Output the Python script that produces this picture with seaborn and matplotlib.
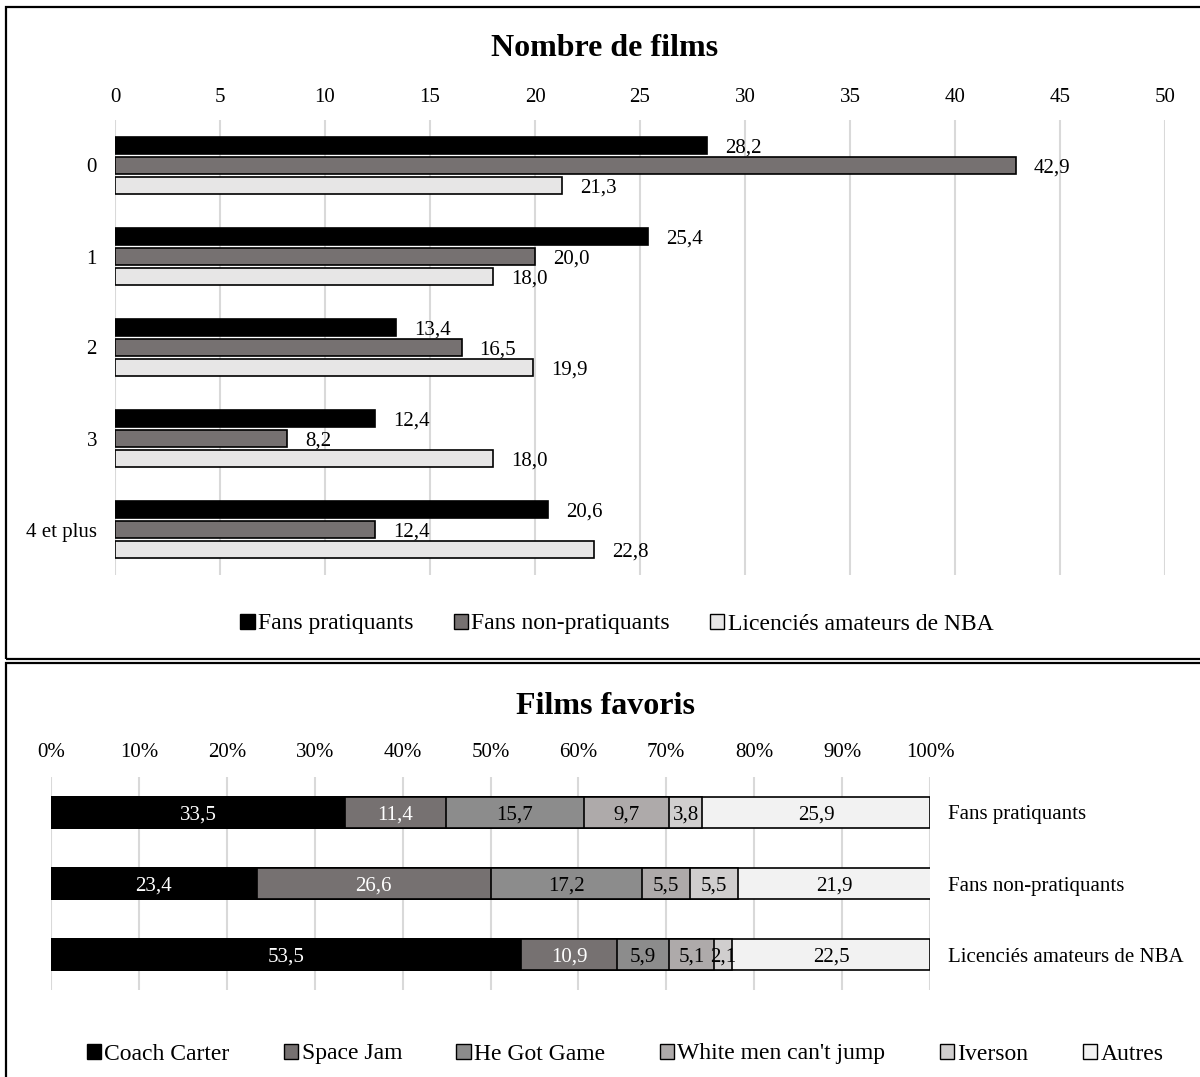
import numpy as np
import pandas as pd
import matplotlib
matplotlib.use("Agg")
import matplotlib.pyplot as plt
from matplotlib.patches import Patch, Rectangle
import seaborn as sns

# ---------------- data ----------------
nb_categories = ["0", "1", "2", "3", "4 et plus"]
series_top = ["Fans pratiquants", "Fans non-pratiquants", "Licenciés amateurs de NBA"]
fans_pratiquants = [28.2, 25.4, 13.4, 12.4, 20.6]
fans_non_pratiquants = [42.9, 20.0, 16.5, 8.2, 12.4]
licencies_nba = [21.3, 18.0, 19.9, 18.0, 22.8]
top_colors = ["#000000", "#767171", "#e7e6e6"]
top_ticks = [0, 5, 10, 15, 20, 25, 30, 35, 40, 45, 50]

groups_bottom = ["Fans pratiquants", "Fans non-pratiquants", "Licenciés amateurs de NBA"]
films = ["Coach Carter", "Space Jam", "He Got Game", "White men can't jump", "Iverson", "Autres"]
coach_carter = [33.5, 23.4, 53.5]
space_jam = [11.4, 26.6, 10.9]
he_got_game = [15.7, 17.2, 5.9]
white_men = [9.7, 5.5, 5.1]
iverson = [3.8, 5.5, 2.1]
autres = [25.9, 21.9, 22.5]
film_colors = ["#000000", "#767171", "#8c8c8c", "#aeaaaa", "#d0cece", "#f2f2f2"]
label_colors = ["white", "white", "black", "black", "black", "black"]
bottom_ticks = [0, 10, 20, 30, 40, 50, 60, 70, 80, 90, 100]

# ---------------- style ----------------
sns.set_theme(style="white")
plt.rcParams["font.family"] = ["Liberation Serif", "DejaVu Serif"]
plt.rcParams["text.color"] = "black"
plt.rcParams["xtick.color"] = "black"
plt.rcParams["ytick.color"] = "black"
plt.rcParams["axes.labelcolor"] = "black"

W, H = 1200, 1077
fig = plt.figure(figsize=(W / 100, H / 100), dpi=100)

def fbox(x0, y0, x1, y1):
    return [x0 / W, 1 - y1 / H, (x1 - x0) / W, (y1 - y0) / H]

# panel borders
fig.add_artist(Rectangle((6 / W, 1 - 659 / H), 1.2, (659 - 7) / H, transform=fig.transFigure,
                         fill=False, edgecolor="black", linewidth=1.6))
fig.add_artist(Rectangle((6 / W, -0.2), 1.2, 0.2 + 1 - 663 / H, transform=fig.transFigure,
                         fill=False, edgecolor="black", linewidth=1.6))

def fmt(v):
    return f"{v:.1f}".replace(".", ",")

# ---------------- top chart ----------------
ax1 = fig.add_axes(fbox(115, 120, 1165, 575))
df_top = pd.DataFrame({
    "cat": nb_categories * 3,
    "val": fans_pratiquants + fans_non_pratiquants + licencies_nba,
    "serie": [s for s in series_top for _ in nb_categories],
})
sns.barplot(data=df_top, y="cat", x="val", hue="serie", hue_order=series_top,
            order=nb_categories, palette=top_colors, orient="h", width=0.66, gap=0.13,
            saturation=1, edgecolor="black", linewidth=1.2, legend=False, ax=ax1)
for cont, vals in zip(ax1.containers, [fans_pratiquants, fans_non_pratiquants, licencies_nba]):
    texts = ax1.bar_label(cont, labels=[fmt(v) for v in vals], padding=13, fontsize=15)
    for t in texts:
        t.set_va("center_baseline")
ax1.set_xlim(0, 50)
ax1.set_ylim(4.5, -0.5)
ax1.set_xticks(top_ticks)
ax1.xaxis.tick_top()
ax1.tick_params(axis="x", length=0, pad=9.5, labelsize=15)
ax1.tick_params(axis="y", length=0, pad=13, labelsize=15)
for lab in ax1.get_yticklabels():
    lab.set_va("center_baseline")
ax1.grid(axis="x", color="#d9d9d9", linewidth=1.5)
ax1.set_axisbelow(True)
for s in ax1.spines.values():
    s.set_visible(False)
ax1.set_xlabel("")
ax1.set_ylabel("")
fig.text(605 / W, 1 - 45 / H, "Nombre de films", ha="center", va="center_baseline",
         fontsize=23, fontweight="bold")
fig.legend(handles=[Patch(facecolor=c, edgecolor="black", linewidth=1) for c in top_colors],
           labels=series_top, loc="center", bbox_to_anchor=(617 / W, 1 - 624 / H), ncol=3,
           frameon=False, fontsize=17, handlelength=0.6, handleheight=0.6,
           handletextpad=0.15, columnspacing=1.7)

# ---------------- bottom chart ----------------
ax2 = fig.add_axes(fbox(51, 777, 930, 990))
vals = np.array([coach_carter, space_jam, he_got_game, white_men, iverson, autres])  # films x groups
cum = np.cumsum(vals, axis=0)
for i in reversed(range(len(films))):
    sns.barplot(x=cum[i], y=groups_bottom, order=groups_bottom, color=film_colors[i],
                orient="h", width=0.45, saturation=1, edgecolor="black", linewidth=1.2, ax=ax2)
for i in range(len(films)):
    for j in range(len(groups_bottom)):
        ax2.text(cum[i, j] - vals[i, j] / 2, j, fmt(vals[i, j]), ha="center",
                 va="center_baseline", fontsize=15, color=label_colors[i])
ax2.set_xlim(0, 100)
ax2.set_ylim(2.5, -0.5)
ax2.set_xticks(bottom_ticks)
ax2.set_xticklabels([f"{t}%" for t in bottom_ticks])
ax2.xaxis.tick_top()
ax2.yaxis.tick_right()
ax2.tick_params(axis="x", length=0, pad=11, labelsize=15)
ax2.tick_params(axis="y", length=0, pad=13, labelsize=15)
for lab in ax2.get_yticklabels():
    lab.set_va("center_baseline")
ax2.grid(axis="x", color="#d9d9d9", linewidth=1.5)
ax2.set_axisbelow(True)
for s in ax2.spines.values():
    s.set_visible(False)
ax2.set_xlabel("")
ax2.set_ylabel("")
fig.text(606 / W, 1 - 703 / H, "Films favoris", ha="center", va="center_baseline",
         fontsize=23, fontweight="bold")
fig.legend(handles=[Patch(facecolor=c, edgecolor="black", linewidth=1) for c in film_colors],
           labels=films, loc="center", bbox_to_anchor=(625 / W, 1 - 1054 / H), ncol=6,
           frameon=False, fontsize=17, handlelength=0.6, handleheight=0.6,
           handletextpad=0.15, columnspacing=2.3)

fig.savefig("out.png", dpi=100)
